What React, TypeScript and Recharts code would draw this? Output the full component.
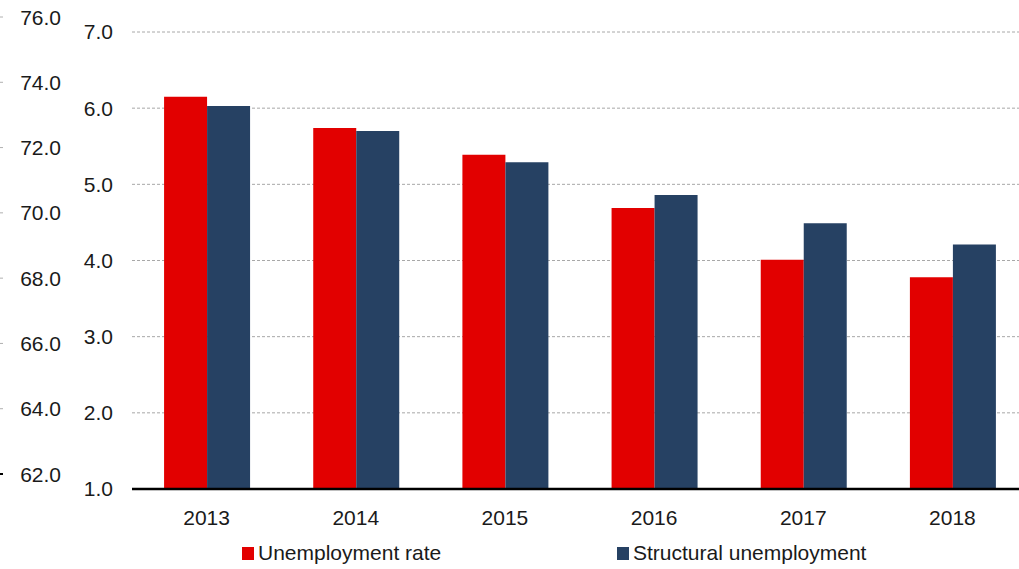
import React from 'react';
import { ComposedChart, Bar, Line, XAxis, YAxis, CartesianGrid } from 'recharts';

const years = ['2013', '2014', '2015', '2016', '2017', '2018'];
const unemploymentRate = [6.15, 5.74, 5.39, 4.69, 4.01, 3.78];
const structuralUnemployment = [6.03, 5.7, 5.29, 4.86, 4.49, 4.21];
const rateTicks = [1, 2, 3, 4, 5, 6, 7];
const secondaryTicks = [62, 64, 66, 68, 70, 72, 74, 76];
const seriesNames = ['Unemployment rate', 'Structural unemployment'];

const RED = '#e20000';
const NAVY = '#264163';
const FONT = '"Liberation Sans", Arial, sans-serif';

const data = years.map((year, i) => ({
  year,
  rate: unemploymentRate[i],
  structural: structuralUnemployment[i],
}));

// leftmost axis: small tick stubs at the edge, labels to their right
function SecondaryTick(props: any) {
  const { x, y, payload } = props;
  const left = Number(x) - 70;
  const ty = Number(y) - 15;
  const isBase = payload.value === secondaryTicks[0];
  return (
    <g>
      <line
        x1={left}
        x2={left + 3}
        y1={ty}
        y2={ty}
        stroke={isBase ? '#000' : '#b0b0b0'}
        strokeWidth={isBase ? 2 : 1}
      />
      <text x={left + 61} y={ty} textAnchor="end" dominantBaseline="central" fontSize={21} fill="#1a1a1a" fontFamily={FONT}>
        {Number(payload.value).toFixed(1)}
      </text>
    </g>
  );
}

function LegendRow() {
  const colors = [RED, NAVY];
  const lefts = [242, 617];
  return (
    <>
      {seriesNames.map((name, i) => (
        <div
          key={name}
          style={{
            position: 'absolute',
            left: lefts[i],
            top: 541,
            display: 'flex',
            alignItems: 'center',
            fontFamily: FONT,
            fontSize: 21,
            color: '#1a1a1a',
            whiteSpace: 'nowrap',
          }}
        >
          <span style={{ display: 'inline-block', width: 12, height: 13, background: colors[i], marginRight: 4 }} />
          {name}
        </div>
      ))}
    </>
  );
}

export default function App() {
  return (
    <div
      style={{
        position: 'absolute',
        left: 0,
        top: 0,
        width: 1019,
        height: 569,
        overflow: 'hidden',
        background: '#fff',
      }}
    >
      <ComposedChart
        width={1030}
        height={569}
        data={data}
        margin={{ top: 32, right: 3, bottom: 0, left: 0 }}
        barCategoryGap="21.5%"
        barGap={0}
        style={{ fontFamily: FONT }}
      >
        <CartesianGrid
          yAxisId="rate"
          vertical={false}
          stroke="#a8a8a8"
          strokeDasharray="3 2"
        />
        <XAxis
          dataKey="year"
          height={80}
          tickLine={false}
          tickSize={0}
          tickMargin={21}
          axisLine={{ stroke: '#000', strokeWidth: 2.5 }}
          tick={{ fontSize: 21, fill: '#1a1a1a' }}
        />
        <YAxis
          yAxisId="rate"
          orientation="left"
          width={62}
          domain={[1, 7]}
          ticks={rateTicks}
          axisLine={false}
          tickLine={false}
          tickSize={0}
          tickMargin={19}
          tick={{ fontSize: 21, fill: '#1a1a1a' }}
          tickFormatter={(v: number) => v.toFixed(1)}
        />
        <YAxis
          yAxisId="secondary"
          orientation="left"
          width={70}
          type="number"
          domain={[62, 76]}
          ticks={secondaryTicks}
          allowDataOverflow
          axisLine={false}
          tickLine={false}
          tickSize={0}
          tickMargin={0}
          tick={SecondaryTick}
        />
        <Bar yAxisId="rate" dataKey="rate" name={seriesNames[0]} fill={RED} isAnimationActive={false} />
        <Bar yAxisId="rate" dataKey="structural" name={seriesNames[1]} fill={NAVY} isAnimationActive={false} />
        {/* empty series so the secondary scale is laid out */}
        <Line
          yAxisId="secondary"
          dataKey="secondary"
          stroke="none"
          dot={false}
          activeDot={false}
          legendType="none"
          isAnimationActive={false}
        />
      </ComposedChart>
      <LegendRow />
    </div>
  );
}
